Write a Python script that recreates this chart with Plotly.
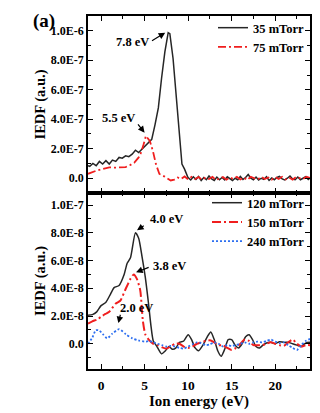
import plotly.graph_objects as go

# ---------------- data (IEDF values in units given by the array names) ----------------
energy_35 = [-1.5, -1.3, -0.94, -0.56, -0.19, 0.18, 0.56, 0.94, 1.31, 1.69,
             2.07, 2.44, 2.82, 3.19, 3.57, 3.95, 4.32, 4.7, 5.07, 5.45,
             5.82, 6.2, 6.58, 6.95, 7.33, 7.71, 7.9, 8.27, 8.65, 9.03,
             9.29, 9.59, 9.97,
             10.3, 10.6, 10.9, 11.2, 11.5, 11.8, 12.1, 12.4, 12.7, 13.0,
             13.3, 13.6, 13.9, 14.2, 14.5, 14.8, 15.1, 15.4, 15.7, 16.0,
             16.3, 16.6, 16.9, 17.2, 17.5, 17.8, 18.1, 18.4, 18.7, 19.0,
             19.3, 19.6, 19.9, 20.2, 20.5, 20.8, 21.1, 21.4, 21.7, 22.0,
             22.3, 22.6, 22.9, 23.2, 23.5, 23.8, 24.0]
iedf_35_e7 = [0.85, 0.81, 1.00, 0.85, 1.14, 0.96, 1.19, 0.96, 1.23, 1.14,
              1.41, 1.36, 1.52, 1.46, 1.63, 1.90, 1.74, 1.97, 2.19, 2.42,
              2.64, 3.64, 4.77, 6.78, 8.57, 9.87, 9.80, 8.12, 5.66, 2.97,
              0.96, 0.62, 0.07,
              -0.12, 0.10, -0.08, 0.12, -0.15, 0.05, -0.10, 0.15, -0.05, -0.15,
              0.08, -0.10, 0.05, -0.12, 0.10, -0.05, -0.15, 0.00, -0.10, 0.12,
              -0.08, 0.05, 0.25, 0.00, -0.10, 0.08, -0.12, 0.00, -0.08, 0.10,
              -0.15, 0.02, -0.10, 0.05, 0.12, -0.05, -0.12, 0.00, 0.15, -0.05,
              -0.10, 0.08, -0.10, 0.00, 0.10, -0.08, 0.02]

energy_75 = [-1.5, -1.0, -0.5, 0.0, 0.5, 0.94, 1.5, 2.0, 2.5, 2.82,
             3.3, 3.8, 4.32, 4.6, 4.89, 5.15, 5.6, 5.95, 6.3, 6.7,
             7.3, 8.0, 8.4, 8.8, 9.2, 9.6, 10.0, 10.4, 10.8, 11.2,
             11.6, 12.0, 12.4, 12.8, 13.2, 13.6, 14.0, 14.4, 14.8, 15.2,
             15.6, 16.0, 16.4, 16.8, 17.2, 17.6, 18.0, 18.4, 18.8, 19.2,
             19.6, 20.0, 20.4, 20.8, 21.2, 21.6, 22.0, 22.4, 22.8, 23.2,
             23.6, 24.0]
iedf_75_e7 = [0.30, 0.42, 0.52, 0.60, 0.68, 0.74, 0.72, 0.74, 0.74, 0.76,
              0.88, 1.05, 1.41, 1.75, 2.30, 2.87, 2.53, 1.86, 0.96, 0.29,
              0.11, -0.15, -0.10, 0.05, -0.05, 0.12, -0.08, 0.10, -0.05, 0.08,
              -0.10, 0.05, -0.05, 0.10, -0.12, 0.00, 0.08, -0.10, 0.05, -0.05,
              0.10, -0.08, 0.05, -0.12, 0.10, 0.00, -0.08, 0.10, -0.05, 0.05,
              -0.10, 0.08, -0.05, 0.10, -0.08, 0.05, -0.10, 0.08, 0.00, -0.05,
              0.10, 0.02]

energy_120 = [-1.5, -1.0, -0.5, 0.0, 0.56, 1.1, 1.5, 2.07, 2.63, 3.0,
              3.38, 3.95, 4.32, 4.7, 5.08, 5.45, 5.75, 6.0, 6.39, 6.95,
              7.4, 7.8, 8.2, 8.6, 9.0, 9.5, 10.0, 10.4, 10.8, 11.2,
              11.7, 12.2, 12.6, 13.0, 13.4, 13.8, 14.2, 14.6, 15.0, 15.4,
              15.8, 16.2, 16.6, 17.0, 17.4, 17.8, 18.2, 18.6, 19.0, 19.5,
              20.0, 20.5, 21.0, 21.5, 22.0, 22.5, 23.0, 23.5, 24.0]
iedf_120_e8 = [2.05, 2.10, 2.30, 2.75, 3.00, 3.60, 4.05, 4.20, 4.95, 5.80,
               6.20, 8.00, 7.60, 6.30, 4.80, 2.90, 1.20, 0.20, -0.17, -0.73,
               -0.50, -0.20, -0.40, -0.30, 0.10, 0.20, 0.65, 0.30, -0.30, -0.50,
               -0.10, 0.50, 0.85, 0.30, -0.50, -0.90, -0.40, 0.30, 0.30, -0.10,
               -0.30, 0.00, 0.50, 0.65, 0.30, -0.20, -0.30, -0.10, 0.05, 0.10,
               0.00, 0.15, 0.10, 0.10, 0.00, -0.10, -0.20, 0.05, 0.10]

energy_150 = [-1.5, -1.0, -0.44, 0.0, 0.5, 0.94, 1.69, 2.2, 2.86, 3.4,
              3.76, 4.1, 4.5, 4.8, 5.08, 5.45, 6.0, 6.5, 7.0, 7.5,
              8.0, 8.5, 9.0, 9.5, 10.0, 10.5, 11.0, 11.5, 12.0, 12.5,
              13.0, 13.5, 14.0, 14.5, 15.0, 15.5, 16.0, 16.5, 17.0, 17.5,
              18.0, 18.5, 19.0, 19.5, 20.0, 20.5, 21.0, 21.5, 22.0, 22.5,
              23.0, 23.5, 24.0]
iedf_150_e8 = [1.46, 1.62, 1.75, 1.95, 2.15, 2.30, 2.90, 3.10, 4.00, 4.70,
               5.00, 4.70, 3.85, 1.66, 0.68, 0.32, 0.00, -0.10, -0.25, -0.35,
               -0.20, 0.00, 0.00, -0.20, -0.30, -0.20, 0.00, 0.10, 0.20, 0.25,
               0.10, -0.10, -0.10, -0.30, -0.45, -0.30, 0.00, 0.30, 0.20, -0.10,
               -0.10, -0.10, 0.00, 0.10, 0.00, -0.10, -0.15, 0.10, 0.30, 0.00,
               -0.20, -0.10, -0.10]

energy_240 = [-1.5, -1.0, -0.6, -0.2, 0.2, 0.7, 1.3, 2.07, 2.86, 3.6,
              4.3, 5.08, 5.5, 6.0, 6.5, 7.0, 7.5, 8.0, 8.5, 9.0,
              9.5, 10.0, 10.5, 11.0, 11.5, 12.0, 12.5, 13.0, 13.5, 14.0,
              14.5, 15.0, 15.5, 16.0, 16.5, 17.0, 17.5, 18.0, 18.5, 19.0,
              19.5, 20.0, 20.5, 21.0, 21.5, 22.0, 22.5, 23.0, 23.5, 24.0]
iedf_240_e8 = [0.00, 0.45, 0.98, 0.95, 0.70, 0.39, 0.73, 1.05, 0.68, 0.39,
               0.24, 0.15, 0.20, 0.10, 0.00, -0.10, -0.20, -0.15, -0.20, -0.30,
               -0.35, -0.20, -0.05, 0.10, 0.05, -0.10, -0.05, 0.10, 0.00, -0.20,
               -0.10, -0.15, -0.10, 0.00, 0.10, 0.00, 0.10, 0.15, 0.10, 0.20,
               0.30, 0.15, 0.05, 0.10, -0.10, -0.30, -0.45, -0.10, 0.20, 0.35]

x_tick_vals = [0, 5, 10, 15, 20]
top_tick_vals = [0, 2e-7, 4e-7, 6e-7, 8e-7, 1e-6]
top_tick_text = ["0.0", "2.0E-7", "4.0E-7", "6.0E-7", "8.0E-7", "1.0E-6"]
bot_tick_vals = [0, 2e-8, 4e-8, 6e-8, 8e-8, 1e-7]
bot_tick_text = ["0.0", "2.0E-8", "4.0E-8", "6.0E-8", "8.0E-8", "1.0E-7"]

FONT = "Liberation Serif, Times New Roman, serif"
BLACK = "#262626"
RED = "#f01e1e"
BLUE = "#2d6ff0"

fig = go.Figure()

fig.add_trace(go.Scatter(x=energy_35, y=[v * 1e-7 for v in iedf_35_e7], name="35 mTorr",
                         mode="lines", line=dict(color=BLACK, width=1.5),
                         xaxis="x2", yaxis="y2", legend="legend"))
fig.add_trace(go.Scatter(x=energy_75, y=[v * 1e-7 for v in iedf_75_e7], name="75 mTorr",
                         mode="lines", line=dict(color=RED, width=1.8, dash="8px,3px,2px,3px"),
                         xaxis="x2", yaxis="y2", legend="legend"))
fig.add_trace(go.Scatter(x=energy_120, y=[v * 1e-8 for v in iedf_120_e8], name="120 mTorr",
                         mode="lines", line=dict(color=BLACK, width=1.5, shape="spline", smoothing=0.6),
                         xaxis="x", yaxis="y", legend="legend2"))
fig.add_trace(go.Scatter(x=energy_150, y=[v * 1e-8 for v in iedf_150_e8], name="150 mTorr",
                         mode="lines", line=dict(color=RED, width=2, dash="9px,3px,2px,3px", shape="spline", smoothing=0.6),
                         xaxis="x", yaxis="y", legend="legend2"))
fig.add_trace(go.Scatter(x=energy_240, y=[v * 1e-8 for v in iedf_240_e8], name="240 mTorr",
                         mode="lines", line=dict(color=BLUE, width=1.8, dash="2px,2px", shape="spline", smoothing=0.6),
                         xaxis="x", yaxis="y", legend="legend2"))

SPLIT = 179 / 359

axis_common = dict(showline=True, linecolor="black", linewidth=1.6, mirror="allticks",
                   ticks="inside", ticklen=5, tickwidth=1.2, tickcolor="black",
                   showgrid=False, zeroline=False)

fig.update_layout(
    width=320, height=413,
    margin=dict(l=88, r=8, t=16, b=38),
    paper_bgcolor="white", plot_bgcolor="white",
    font=dict(family=FONT, size=12, color="black", weight="bold"),
    xaxis=dict(domain=[0, 1], anchor="y", range=[-1.5, 24], tickmode="array", tickvals=x_tick_vals,
               tickfont=dict(family=FONT, size=13.5, weight="bold"), ticklabelstandoff=3,
               minor=dict(ticks="inside", dtick=2.5, tick0=0, ticklen=3, tickcolor="black"),
               title=dict(text="Ion energy (eV)", font=dict(family=FONT, size=15, weight="bold"), standoff=1),
               **axis_common),
    xaxis2=dict(domain=[0, 1], anchor="y2", matches="x", range=[-1.5, 24], tickmode="array",
                tickvals=x_tick_vals, showticklabels=False,
                minor=dict(ticks="inside", dtick=2.5, tick0=0, ticklen=3, tickcolor="black"),
                **axis_common),
    yaxis=dict(domain=[0, SPLIT], anchor="x", range=[-1.82e-8, 1.087e-7], tickmode="array",
               tickvals=bot_tick_vals, ticktext=bot_tick_text,
               tickfont=dict(family=FONT, size=12, weight="bold"),
               minor=dict(ticks="inside", tickmode="linear", dtick=1e-8, tick0=0, ticklen=3, tickcolor="black"),
               title=dict(text="IEDF (a.u.)", font=dict(family=FONT, size=14.5, weight="bold"), standoff=2),
               **axis_common),
    yaxis2=dict(domain=[SPLIT, 1], anchor="x2", range=[-1e-7, 1.1e-6], tickmode="array",
                tickvals=top_tick_vals, ticktext=top_tick_text,
                tickfont=dict(family=FONT, size=12, weight="bold"),
                minor=dict(ticks="inside", tickmode="linear", dtick=1e-7, tick0=0, ticklen=3, tickcolor="black"),
                title=dict(text="IEDF (a.u.)", font=dict(family=FONT, size=14.5, weight="bold"), standoff=2),
                **axis_common),
    legend=dict(x=1.0, xanchor="right", y=1.0 + 3 / 359, yanchor="top", bgcolor="rgba(0,0,0,0)",
                font=dict(family=FONT, size=12.5, weight="bold"), tracegroupgap=0, itemwidth=30),
    legend2=dict(x=1.0, xanchor="right", y=SPLIT + 5 / 359, yanchor="top", bgcolor="rgba(0,0,0,0)",
                 font=dict(family=FONT, size=12.5, weight="bold"), tracegroupgap=0, itemwidth=30),
    showlegend=True,
)

# arrows (tail -> head) and labels
arrows = [
    ("x2", "y2", 5.68, 0.926e-6, 7.37, 0.987e-6),
    ("x2", "y2", 4.11, 0.376e-6, 5.0, 0.309e-6),
    ("x", "y", 5.08, 0.858e-7, 4.13, 0.818e-7),
    ("x", "y", 5.64, 0.555e-7, 4.02, 0.515e-7),
    ("x", "y", 2.26, 0.22e-7, 1.99, 0.149e-7),
]
for xr, yr, tx, ty, hx, hy in arrows:
    fig.add_annotation(xref=xr, yref=yr, x=hx, y=hy, axref=xr, ayref=yr, ax=tx, ay=ty,
                       text="", showarrow=True, arrowhead=2, arrowsize=1.1, arrowwidth=1.2,
                       arrowcolor="black")

labels = [
    ("x2", "y2", 3.59, 0.926e-6, "7.8 eV"),
    ("x2", "y2", 2.01, 0.409e-6, "5.5 eV"),
    ("x", "y", 7.48, 0.896e-7, "4.0 eV"),
    ("x", "y", 7.82, 0.562e-7, "3.8 eV"),
    ("x", "y", 4.10, 0.257e-7, "2.0 eV"),
]
for xr, yr, lx, ly, t in labels:
    fig.add_annotation(xref=xr, yref=yr, x=lx, y=ly, text=t, showarrow=False,
                       font=dict(size=12.5, weight="bold", family=FONT))

fig.add_annotation(xref="paper", yref="paper", x=-0.2, y=0.986, xanchor="center", yanchor="middle",
                   text="(a)", showarrow=False, font=dict(size=19, weight="bold", family=FONT))

fig.write_html("out.html")
